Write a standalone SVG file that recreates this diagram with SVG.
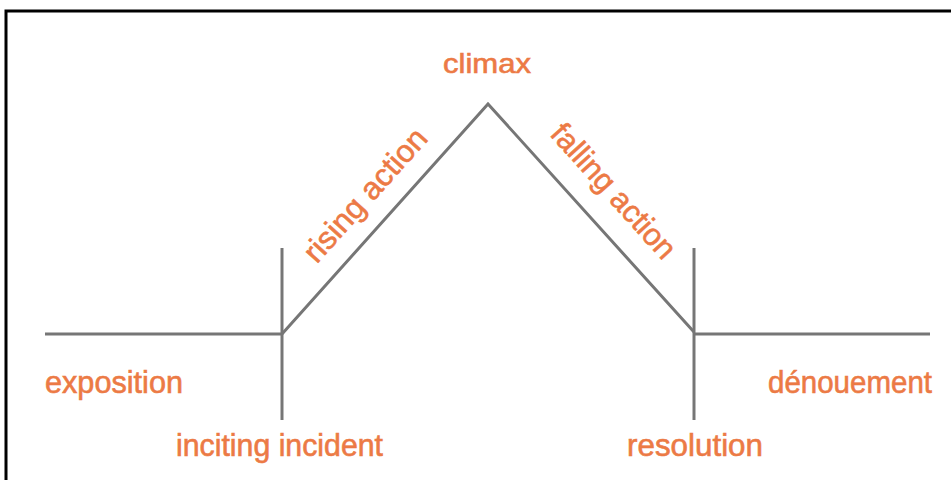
<svg xmlns="http://www.w3.org/2000/svg" width="951" height="480" viewBox="0 0 951 480">
<style>
.ln{stroke:#767676;stroke-width:3;fill:none;stroke-linecap:butt}
.lb{font-family:"Liberation Sans",Arial,sans-serif;font-size:31px;fill:#EC7A45;stroke:#EC7A45;stroke-width:0.6}
</style>
<rect x="0" y="0" width="951" height="480" fill="#ffffff"/>
<rect x="6" y="11" width="960" height="480" fill="none" stroke="#000000" stroke-width="3"/>
<g id="connectors">
<line class="ln" x1="45" y1="334" x2="283" y2="334"/>
<line class="ln" x1="282" y1="248" x2="282" y2="420"/>
<polyline class="ln" points="282,334 488,104 694,332"/>
<line class="ln" x1="694" y1="248" x2="694" y2="420"/>
<line class="ln" x1="693" y1="334" x2="930" y2="334"/>
</g>
<g id="climax"><text class="lb" x="487" y="73" text-anchor="middle" textLength="88" lengthAdjust="spacingAndGlyphs" style="font-size:27px">climax</text></g>
<g id="exposition"><text class="lb" x="45" y="393" textLength="138" lengthAdjust="spacingAndGlyphs">exposition</text></g>
<g id="inciting"><text class="lb" x="176" y="456" textLength="207" lengthAdjust="spacingAndGlyphs">inciting incident</text></g>
<g id="resolution"><text class="lb" x="627" y="456" textLength="136" lengthAdjust="spacingAndGlyphs">resolution</text></g>
<g id="denouement"><text class="lb" x="768" y="393" textLength="164" lengthAdjust="spacingAndGlyphs">dénouement</text></g>
<g id="rising"><text class="lb" transform="translate(373,202) rotate(-48)" x="0" y="0" text-anchor="middle" textLength="168" lengthAdjust="spacingAndGlyphs">rising action</text></g>
<g id="falling"><text class="lb" transform="translate(606,198) rotate(48)" x="0" y="0" text-anchor="middle" textLength="170" lengthAdjust="spacingAndGlyphs">falling action</text></g>
</svg>
